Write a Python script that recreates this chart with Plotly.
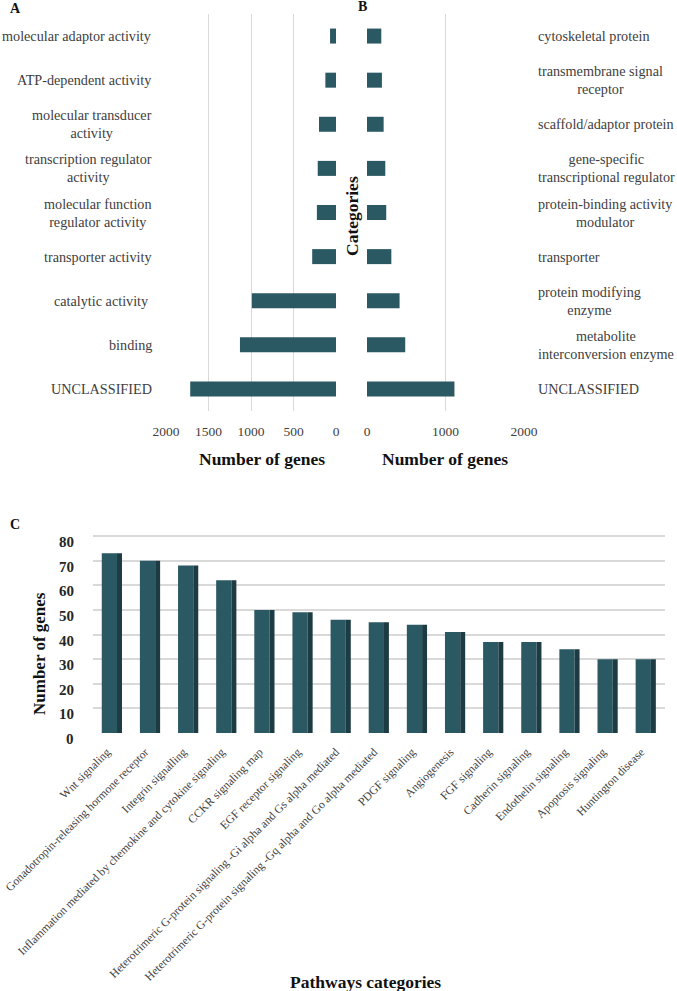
import plotly.graph_objects as go

W, H = 677, 991

# ---- Data ----
mf_categories = ["molecular adaptor activity", "ATP-dependent activity",
                 "molecular transducer<br>activity", "transcription regulator<br>activity",
                 "molecular function<br>regulator activity", "transporter activity",
                 "catalytic activity ", "binding", "UNCLASSIFIED"]
mf_values = [70, 125, 200, 215, 225, 280, 990, 1130, 1715]

pc_categories = ["cytoskeletal protein", "transmembrane signal<br>receptor",
                 "scaffold/adaptor protein", "gene-specific<br>transcriptional regulator",
                 "protein-binding activity<br>modulator", "transporter",
                 "protein modifying<br>enzyme", "metabolite<br>interconversion enzyme",
                 "UNCLASSIFIED"]
pc_values = [182, 190, 212, 233, 245, 310, 415, 487, 1114]

pw_categories = ["Wnt signaling", "Gonadotropin-releasing hormone receptor",
                 "Integrin signalling",
                 "Inflammation mediated by chemokine and cytokine signaling",
                 "CCKR signaling map", "EGF receptor signaling",
                 "Heterotrimeric G-protein signaling -Gi alpha and Gs alpha mediated",
                 "Heterotrimeric G-protein signaling -Gq alpha and Go alpha mediated",
                 "PDGF signaling", "Angiogenesis", "FGF signaling", "Cadherin signaling",
                 "Endothelin signaling", "Apoptosis signaling", "Huntington disease"]
pw_values = [73, 70, 68, 62, 50, 49, 46, 45, 44, 41, 37, 37, 34, 30, 30]

A_ticks = [0, 500, 1000, 1500, 2000]
B_ticks = [0, 1000, 2000]
C_ticks = [0, 10, 20, 30, 40, 50, 60, 70, 80]

# ---- Style ----
FONT = "Liberation Serif"
BAR = "#2a5863"
SIDE = "#1c3b43"
TXT = "#404040"
GRID = "#d9d9d9"

def px_x(p):
    return p / W

def px_y(p):
    return 1 - p / H

fig = go.Figure()

fig.add_trace(go.Bar(y=mf_categories, x=mf_values, orientation="h",
                     marker=dict(color=BAR), width=0.34,
                     xaxis="x", yaxis="y", showlegend=False))
fig.add_trace(go.Bar(y=pc_categories, x=pc_values, orientation="h",
                     marker=dict(color=BAR), width=0.34,
                     xaxis="x2", yaxis="y2", showlegend=False))
# panel C: front face and darker side face
fig.add_trace(go.Bar(x=pw_categories, y=pw_values, marker=dict(color=BAR),
                     width=0.40, offset=-0.27,
                     xaxis="x3", yaxis="y3", showlegend=False))
fig.add_trace(go.Bar(x=pw_categories, y=pw_values, marker=dict(color=SIDE),
                     width=0.13, offset=0.13,
                     xaxis="x3", yaxis="y3", showlegend=False))

ydomAB = [px_y(411), px_y(14)]
tickfont = dict(family=FONT, size=13.5, color=TXT)

fig.update_layout(
    template="none",
    width=W, height=H, margin=dict(l=0, r=0, t=0, b=0, autoexpand=False),
    paper_bgcolor="white", plot_bgcolor="white",
    barmode="overlay",
    font=dict(family=FONT, color=TXT),
    xaxis=dict(domain=[px_x(166), px_x(336)], range=[2000, 0], tickvals=A_ticks,
               showgrid=True, gridcolor=GRID, gridwidth=1, zeroline=False,
               showline=False, ticks="", tickfont=tickfont, anchor="y",
               automargin=False, ticklabelstandoff=10),
    yaxis=dict(domain=ydomAB, categoryorder="array", categoryarray=mf_categories,
               autorange="reversed", showticklabels=False, showgrid=False,
               zeroline=False, showline=False, ticks="", anchor="x",
               automargin=False),
    xaxis2=dict(domain=[px_x(367), px_x(524)], range=[0, 2000], tickvals=B_ticks,
                showgrid=True, gridcolor=GRID, gridwidth=1, zeroline=False,
                showline=False, ticks="", tickfont=tickfont, anchor="y2",
                automargin=False, ticklabelstandoff=10),
    yaxis2=dict(domain=ydomAB, categoryorder="array", categoryarray=pc_categories,
                autorange="reversed", showticklabels=False, showgrid=False,
                zeroline=False, showline=False, ticks="", anchor="x2",
                automargin=False),
    xaxis3=dict(domain=[px_x(93), px_x(665)], tickangle=-45,
                tickfont=dict(family=FONT, size=11.7, color=TXT),
                showgrid=False, zeroline=False, showline=False, ticks="",
                anchor="y3", automargin=False, ticklabelstandoff=9,
                ticklabelshift=-5),
    yaxis3=dict(domain=[px_y(733), px_y(534.8)], range=[0, 80.5], tickvals=C_ticks,
                showgrid=True, gridcolor=GRID, gridwidth=1.5, zeroline=False,
                showline=False, ticks="", showticklabels=False,
                anchor="x3", automargin=False),
)

ann = []
for c in mf_categories:
    ann.append(dict(x=px_x(154), xref="paper", y=c, yref="y", text=c,
                    xanchor="right", align="center", showarrow=False,
                    font=dict(family=FONT, size=14.2, color=TXT)))
for c in pc_categories:
    ann.append(dict(x=px_x(536), xref="paper", y=c, yref="y2", text=c,
                    xanchor="left", align="center", showarrow=False,
                    font=dict(family=FONT, size=14.2, color=TXT)))
# panel C value-axis labels (drawn slightly below their gridlines, as in the 3D original)
for v in C_ticks:
    ann.append(dict(x=px_x(76), xref="paper", y=v, yref="y3", text=str(v),
                    xanchor="right", yanchor="middle", yshift=-6, showarrow=False,
                    font=dict(family=FONT, size=15, color="#262626", weight="bold")))

bold = lambda s: dict(family=FONT, size=s, color="#111111", weight="bold")
ann += [
    dict(x=px_x(8), y=px_y(8), xref="paper", yref="paper", text="A",
         xanchor="left", yanchor="middle", showarrow=False, font=bold(14)),
    dict(x=px_x(356), y=px_y(7), xref="paper", yref="paper", text="B",
         xanchor="left", yanchor="middle", showarrow=False, font=bold(14)),
    dict(x=px_x(8), y=px_y(524), xref="paper", yref="paper", text="C",
         xanchor="left", yanchor="middle", showarrow=False, font=bold(14)),
    dict(x=px_x(262), y=px_y(459), xref="paper", yref="paper", text="Number of genes",
         xanchor="center", yanchor="middle", showarrow=False, font=bold(17.5)),
    dict(x=px_x(445), y=px_y(459), xref="paper", yref="paper", text="Number of genes",
         xanchor="center", yanchor="middle", showarrow=False, font=bold(17.5)),
    dict(x=px_x(352), y=px_y(216), xref="paper", yref="paper", text="Categories",
         textangle=-90, xanchor="center", yanchor="middle", showarrow=False,
         font=bold(17.5)),
    dict(x=px_x(39), y=px_y(654), xref="paper", yref="paper", text="Number of genes",
         textangle=-90, xanchor="center", yanchor="middle", showarrow=False,
         font=bold(17)),
    dict(x=px_x(365), y=px_y(982), xref="paper", yref="paper", text="Pathways categories",
         xanchor="center", yanchor="middle", showarrow=False, font=bold(17.5)),
]
fig.update_layout(annotations=ann)

fig.write_html("out.html")
